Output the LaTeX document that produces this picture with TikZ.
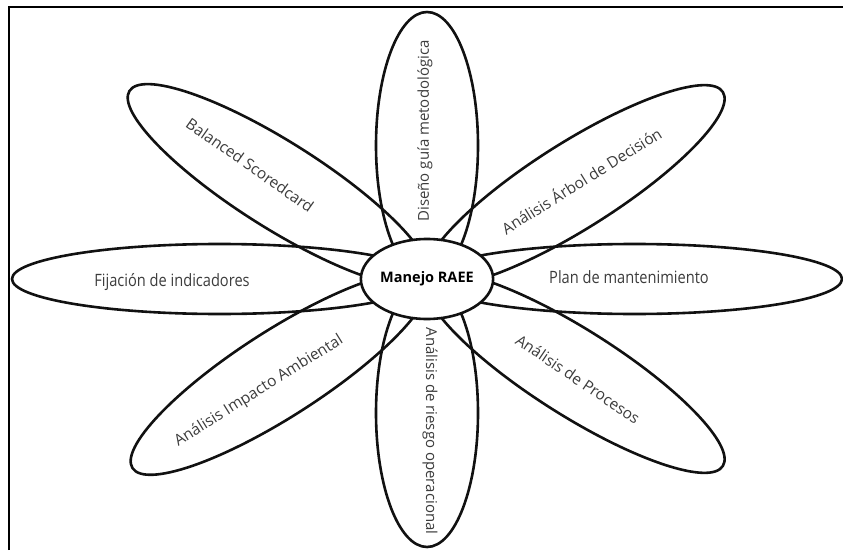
\documentclass[tikz,border=0pt]{standalone}
\usepackage{fontspec}
\setmainfont{Open Sans}
\usetikzlibrary{shapes.geometric}
\definecolor{ink}{HTML}{111111}
\definecolor{labelgray}{HTML}{3C3C3C}
\begin{document}
\begin{tikzpicture}[x=1pt,y=1pt,
  petal/.style={draw=ink, line width=2.6pt},
  lbl/.style={text=labelgray, font=\fontsize{15.5}{17}\selectfont, inner sep=0pt},
  vlbl/.style={lbl, font=\fontsize{15}{17}\selectfont},
  hlbl/.style={lbl, font=\fontsize{17}{19}\selectfont, xscale=0.86},
  hub/.style={ellipse, draw=ink, fill=white, line width=2.6pt,
    minimum width=124pt, minimum height=80pt, inner sep=0pt,
    font=\bfseries\fontsize{14.5}{16}\selectfont}]
\useasboundingbox (0,0) rectangle (843,550);
\coordinate (c) at (427,271);
% frame (top and left edges)
\draw[line width=2.4pt] (9,0) -- (9,543) -- (843,543);
% eight petals, each an ellipse running from the hub centre out to its tip
\foreach \ang/\len/\wid in {0/415/35, 180/415/35, 90/267/51, 270/268/51,
                            32.3/350/43, 147.7/352/43, 212.7/350/43, 327.7/350/43}
  \draw[petal, shift={(c)}, rotate=\ang] (\len/2,0) ellipse [x radius=\len/2, y radius=\wid];
% centre
\node[hub] (hub) at (c) {Manejo RAEE};
% petal labels
\node[vlbl, rotate=90] (diseno) at (425,419) {Diseño guía metodológica};
\node[vlbl, rotate=-90] (riesgo) at (430,119) {Análisis de riesgo operacional};
\node[hlbl] (fijacion) at (172,268) {Fijación de indicadores};
\node[hlbl] (plan) at (629,273) {Plan de mantenimiento};
\node[lbl, rotate=-35] (balanced) at (250,385) {Balanced Scoredcard};
\node[lbl, rotate=32] (arbol) at (581,370) {Análisis Árbol de Decisión};
\node[lbl, rotate=32] (impacto) at (259,159) {Análisis Impacto Ambiental};
\node[lbl, rotate=-34] (procesos) at (578,171) {Análisis de Procesos};
\end{tikzpicture}
\end{document}
